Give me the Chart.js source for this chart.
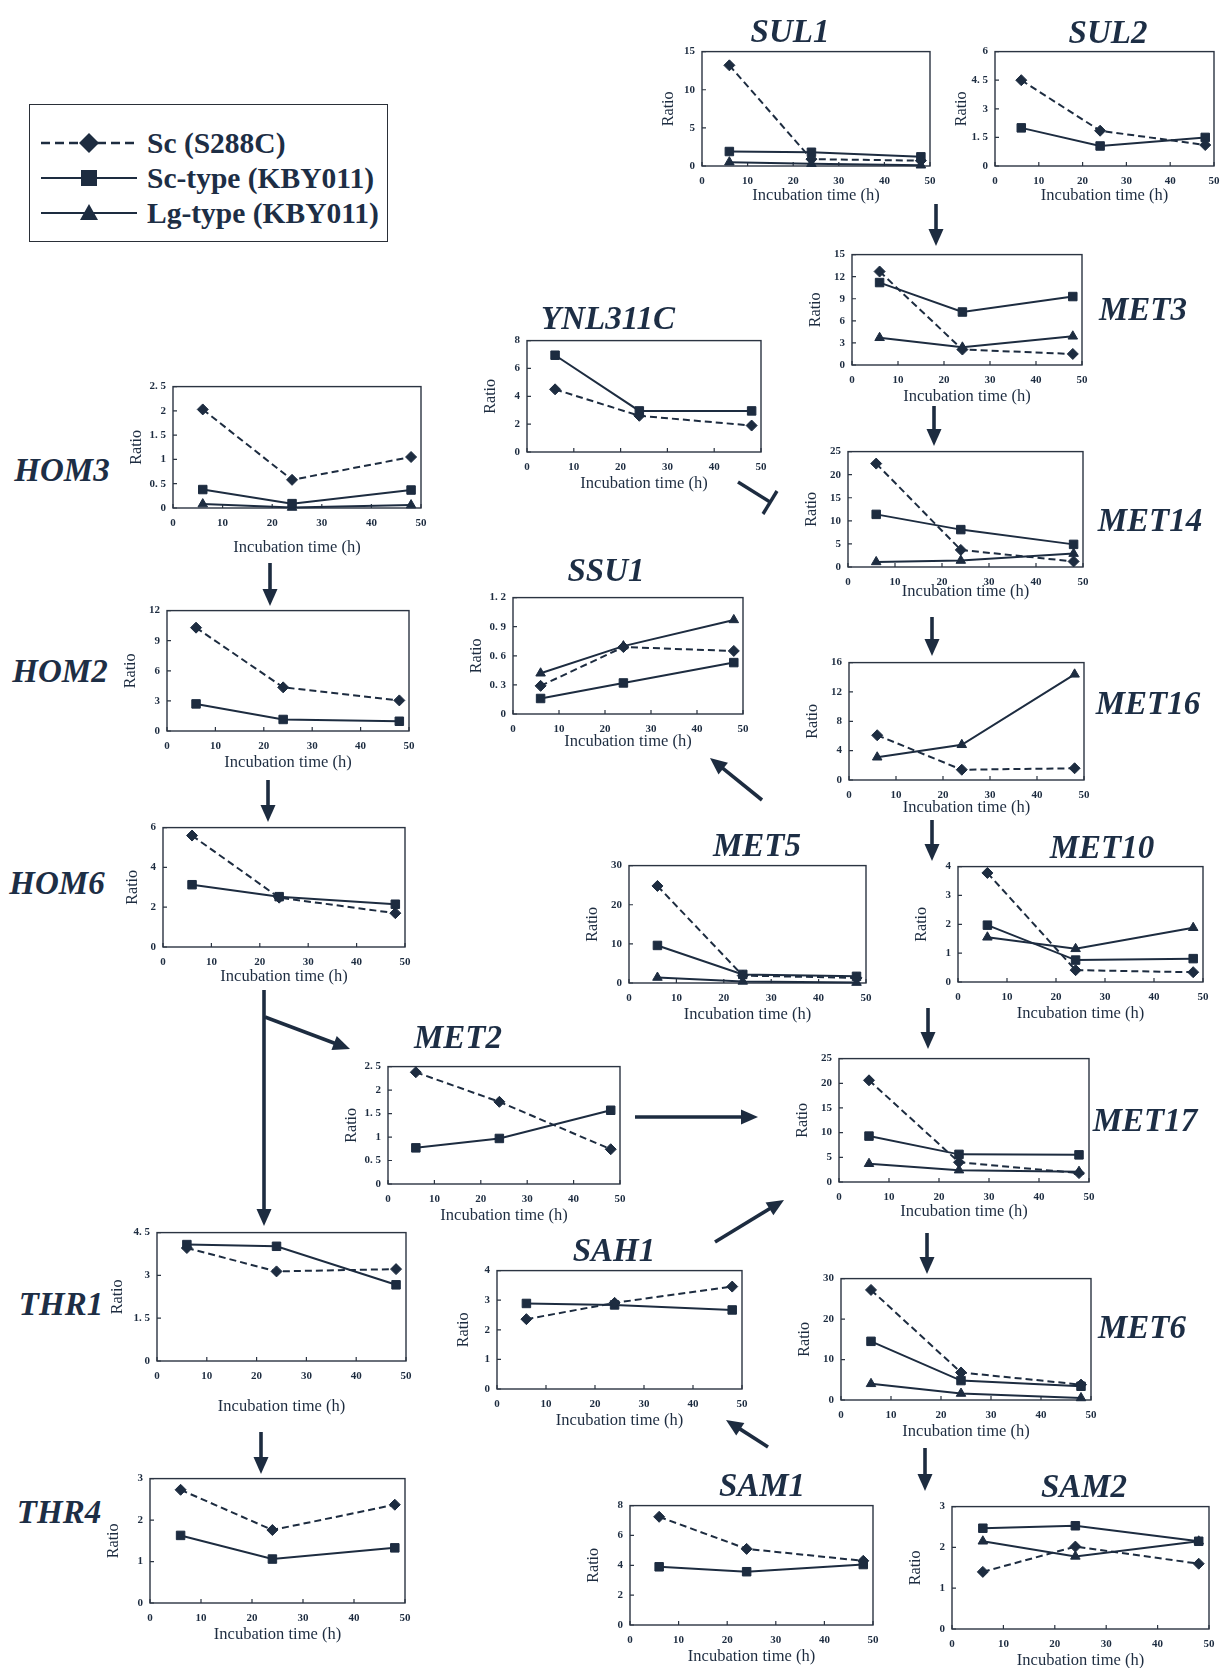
<!DOCTYPE html>
<html>
<head>
<meta charset="utf-8">
<script src="https://cdn.jsdelivr.net/npm/chart.js@4.4.1/dist/chart.umd.min.js"></script>
<style>
  body { margin: 0; background: #fff; }
  #fig { position: relative; width: 1228px; height: 1668px; overflow: hidden; background: #fff; }
  #fig canvas { position: absolute; }
  .gene { position: absolute; font: italic bold 33px "Liberation Serif", serif; color: #1d2e45;
          transform: translate(-50%, -50%); white-space: nowrap; }
  #legend { position: absolute; left: 29px; top: 104px; width: 357px; height: 136px;
            border: 1.5px solid #2a2f38; }
  .legtext { position: absolute; left: 147px; font: bold 29.5px "Liberation Serif", serif; color: #1d2e45;
             transform: translateY(-50%); white-space: nowrap; }
  #arrows { position: absolute; left: 0; top: 0; }
</style>
</head>
<body>
<div id="fig">
  <div id="legend"></div>
  <div class="legtext" style="top:143px">Sc (S288C)</div>
  <div class="legtext" style="top:178px">Sc-type (KBY011)</div>
  <div class="legtext" style="top:213px">Lg-type (KBY011)</div>
  <svg id="arrows" width="1228" height="1668"></svg>
</div>
<script>
// sampling times and x tick labels
const times = [6, 24, 48];
const timeTicks = [0, 10, 20, 30, 40, 50];

// ratios: Sc (S288C), Sc-type (KBY011), Lg-type (KBY011)
const sul1Sc = [13.2, 0.9, 0.7];
const sul1ScType = [1.9, 1.8, 1.2];
const sul1Lg = [0.5, 0.3, 0.1];
const sul1Ticks = [0, 5, 10, 15];

const sul2Sc = [4.5, 1.85, 1.1];
const sul2ScType = [2.0, 1.05, 1.5];
const sul2Ticks = [0, 1.5, 3, 4.5, 6];

const met3Sc = [12.7, 2.1, 1.5];
const met3ScType = [11.2, 7.2, 9.3];
const met3Lg = [3.7, 2.4, 3.9];
const met3Ticks = [0, 3, 6, 9, 12, 15];

const met14Sc = [22.4, 3.7, 1.2];
const met14ScType = [11.4, 8.1, 4.9];
const met14Lg = [1.1, 1.4, 2.9];
const met14Ticks = [0, 5, 10, 15, 20, 25];

const ynlSc = [4.5, 2.6, 1.9];
const ynlScType = [6.95, 2.95, 2.95];
const ynlTicks = [0, 2, 4, 6, 8];

const hom3Sc = [2.03, 0.58, 1.05];
const hom3ScType = [0.38, 0.09, 0.37];
const hom3Lg = [0.08, 0.01, 0.06];
const hom3Ticks = [0, 0.5, 1, 1.5, 2, 2.5];

const hom2Sc = [10.3, 4.35, 3.05];
const hom2ScType = [2.7, 1.15, 0.97];
const hom2Ticks = [0, 3, 6, 9, 12];

const ssu1Sc = [0.29, 0.69, 0.65];
const ssu1ScType = [0.16, 0.32, 0.53];
const ssu1Lg = [0.42, 0.70, 0.97];
const ssu1Ticks = [0, 0.3, 0.6, 0.9, 1.2];

const met16Sc = [6.1, 1.4, 1.6];
const met16Lg = [3.1, 4.8, 14.4];
const met16Ticks = [0, 4, 8, 12, 16];

const met5Sc = [24.8, 1.9, 1.3];
const met5ScType = [9.6, 2.2, 1.7];
const met5Lg = [1.4, 0.4, 0.1];
const met5Ticks = [0, 10, 20, 30];

const met10Sc = [3.78, 0.41, 0.34];
const met10ScType = [1.97, 0.76, 0.81];
const met10Lg = [1.55, 1.15, 1.88];
const met10Ticks = [0, 1, 2, 3, 4];

const hom6Sc = [5.6, 2.48, 1.7];
const hom6ScType = [3.13, 2.53, 2.15];
const hom6Ticks = [0, 2, 4, 6];

const met2Sc = [2.38, 1.75, 0.74];
const met2ScType = [0.77, 0.97, 1.57];
const met2Ticks = [0, 0.5, 1, 1.5, 2, 2.5];

const met17Sc = [20.6, 4.0, 1.8];
const met17ScType = [9.3, 5.6, 5.5];
const met17Lg = [3.7, 2.4, 2.1];
const met17Ticks = [0, 5, 10, 15, 20, 25];

const thr1Sc = [3.96, 3.14, 3.22];
const thr1ScType = [4.08, 4.02, 2.67];
const thr1Ticks = [0, 1.5, 3, 4.5];

const sah1Sc = [2.36, 2.91, 3.46];
const sah1ScType = [2.89, 2.84, 2.67];
const sah1Ticks = [0, 1, 2, 3, 4];

const met6Sc = [27.2, 6.8, 3.8];
const met6ScType = [14.5, 4.8, 3.4];
const met6Lg = [4.0, 1.6, 0.5];
const met6Ticks = [0, 10, 20, 30];

const thr4Sc = [2.73, 1.76, 2.37];
const thr4ScType = [1.63, 1.06, 1.33];
const thr4Ticks = [0, 1, 2, 3];

const sam1Sc = [7.25, 5.1, 4.3];
const sam1ScType = [3.9, 3.57, 4.05];
const sam1Ticks = [0, 2, 4, 6, 8];

const sam2Sc = [1.4, 2.02, 1.6];
const sam2ScType = [2.47, 2.53, 2.15];
const sam2Lg = [2.15, 1.78, 2.15];
const sam2Ticks = [0, 1, 2, 3];

// where each plot box sits on the page: [left, top, right, bottom], and the gene name centre
const panels = [
  { name: 'SUL1', box: [702, 48, 930, 166], title: [790, 31], ticks: sul1Ticks, series: [sul1Sc, sul1ScType, sul1Lg], xt: 30, yt: 33 },
  { name: 'SUL2', box: [995, 48, 1214, 166], title: [1108, 32], ticks: sul2Ticks, series: [sul2Sc, sul2ScType, null], xt: 30, yt: 33 },
  { name: 'MET3', box: [852, 251, 1082, 365], title: [1143, 309], ticks: met3Ticks, series: [met3Sc, met3ScType, met3Lg] },
  { name: 'MET14', box: [848, 448, 1083, 567], title: [1150, 520], ticks: met14Ticks, series: [met14Sc, met14ScType, met14Lg], xt: 25 },
  { name: 'YNL311C', box: [527, 337, 761, 452], title: [608, 318], ticks: ynlTicks, series: [ynlSc, ynlScType, null] },
  { name: 'HOM3', box: [173, 383, 421, 508], title: [62, 470], ticks: hom3Ticks, series: [hom3Sc, hom3ScType, hom3Lg], xt: 40 },
  { name: 'HOM2', box: [167, 607, 409, 731], title: [60, 671], ticks: hom2Ticks, series: [hom2Sc, hom2ScType, null] },
  { name: 'SSU1', box: [513, 594, 743, 714], title: [606, 570], ticks: ssu1Ticks, series: [ssu1Sc, ssu1ScType, ssu1Lg], xt: 28 },
  { name: 'MET16', box: [849, 659, 1084, 780], title: [1148, 703], ticks: met16Ticks, series: [met16Sc, null, met16Lg], xt: 28 },
  { name: 'MET5', box: [629, 862, 866, 983], title: [757, 845], ticks: met5Ticks, series: [met5Sc, met5ScType, met5Lg] },
  { name: 'MET10', box: [958, 863, 1203, 982], title: [1102, 847], ticks: met10Ticks, series: [met10Sc, met10ScType, met10Lg] },
  { name: 'HOM6', box: [163, 824, 405, 947], title: [57, 883], ticks: hom6Ticks, series: [hom6Sc, hom6ScType, null], xt: 30, yt: 30 },
  { name: 'MET2', box: [388, 1063, 620, 1184], title: [458, 1037], ticks: met2Ticks, series: [met2Sc, met2ScType, null] },
  { name: 'MET17', box: [839, 1055, 1089, 1182], title: [1145, 1120], ticks: met17Ticks, series: [met17Sc, met17ScType, met17Lg], xt: 30 },
  { name: 'THR1', box: [157, 1229, 406, 1361], title: [61, 1304], ticks: thr1Ticks, series: [thr1Sc, thr1ScType, null], xt: 46, yt: 39 },
  { name: 'SAH1', box: [497, 1267, 742, 1389], title: [614, 1250], ticks: sah1Ticks, series: [sah1Sc, sah1ScType, null], yt: 33 },
  { name: 'MET6', box: [841, 1275, 1091, 1400], title: [1142, 1327], ticks: met6Ticks, series: [met6Sc, met6ScType, met6Lg] },
  { name: 'THR4', box: [150, 1475, 405, 1603], title: [59, 1512], ticks: thr4Ticks, series: [thr4Sc, thr4ScType, null] },
  { name: 'SAM1', box: [630, 1502, 873, 1625], title: [762, 1485], ticks: sam1Ticks, series: [sam1Sc, sam1ScType, null] },
  { name: 'SAM2', box: [952, 1503, 1209, 1629], title: [1084, 1486], ticks: sam2Ticks, series: [sam2Sc, sam2ScType, sam2Lg] }
];

const ink = '#1d2c40';
const serif = '"Liberation Serif", "Times New Roman", serif';

const seriesStyle = [
  { borderDash: [7, 4], pointStyle: 'rectRot', pointRadius: 5.5 },
  { borderDash: [], pointStyle: 'rect', pointRadius: 6 },
  { borderDash: [], pointStyle: 'triangle', pointRadius: 5.5 }
];

// plot frame + small inner tick marks, like the spreadsheet charts
const framePlugin = {
  id: 'frame',
  beforeDatasetsDraw(chart) {
    const { ctx, chartArea: a, scales } = chart;
    ctx.save();
    ctx.strokeStyle = '#2b3442';
    ctx.lineWidth = 1.4;
    ctx.strokeRect(a.left, a.top, a.right - a.left, a.bottom - a.top);
    ctx.lineWidth = 1.2;
    ctx.beginPath();
    scales.x.ticks.forEach(t => {
      const px = scales.x.getPixelForValue(t.value);
      ctx.moveTo(px, a.bottom); ctx.lineTo(px, a.bottom - 4);
    });
    scales.y.ticks.forEach(t => {
      const py = scales.y.getPixelForValue(t.value);
      ctx.moveTo(a.left, py); ctx.lineTo(a.left + 4, py);
    });
    ctx.stroke();
    ctx.restore();
  }
};

const fig = document.getElementById('fig');
const fmt = v => String(v).replace('.', '. ');

panels.forEach(p => {
  const [l, t, r, b] = p.box;
  const xt = p.xt || 32;   // distance box bottom -> x title centre
  const yt = p.yt || 36;   // distance box left -> y title centre
  const padL = yt + 12, padT = 10, padR = 16, padB = xt + 12;
  const cv = document.createElement('canvas');
  cv.width = r - l + padL + padR;
  cv.height = b - t + padT + padB;
  cv.style.left = (l - padL) + 'px';
  cv.style.top = (t - padT) + 'px';
  fig.appendChild(cv);

  const datasets = [];
  p.series.forEach((vals, i) => {
    if (!vals) return;
    datasets.push({
      data: vals.map((v, k) => ({ x: times[k], y: v })),
      borderColor: ink, backgroundColor: ink,
      pointBackgroundColor: ink, pointBorderColor: ink, pointBorderWidth: 1,
      borderWidth: 2, tension: 0, clip: false,
      ...seriesStyle[i]
    });
  });

  const yTicks = p.ticks;
  new Chart(cv, {
    type: 'line',
    data: { datasets },
    options: {
      responsive: false,
      animation: false,
      devicePixelRatio: 1,
      layout: { padding: { left: 0, top: padT, right: padR, bottom: 0 } },
      plugins: { legend: { display: false }, tooltip: { enabled: false } },
      scales: {
        x: {
          type: 'linear', min: 0, max: 50,
          afterBuildTicks: s => { s.ticks = timeTicks.map(v => ({ value: v })); },
          afterFit: s => { s.height = padB; },
          grid: { display: false, drawTicks: false },
          border: { display: false },
          ticks: { padding: 9, color: ink, font: { family: serif, size: 11, weight: 'bold' }, maxRotation: 0, autoSkip: false },
          title: { display: true, text: 'Incubation time (h)', color: ink,
                   font: { family: serif, size: 16.5 }, padding: { top: 0, bottom: padB - xt - 10 } }
        },
        y: {
          type: 'linear', min: 0, max: yTicks[yTicks.length - 1],
          afterBuildTicks: s => { s.ticks = yTicks.map(v => ({ value: v })); },
          afterFit: s => { s.width = padL; },
          grid: { display: false, drawTicks: false },
          border: { display: false },
          ticks: { padding: 7, color: ink, font: { family: serif, size: 11, weight: 'bold' }, callback: v => fmt(v), autoSkip: false },
          title: { display: true, text: 'Ratio', color: ink,
                   font: { family: serif, size: 16 }, padding: { top: padL - yt - 10, bottom: 0 } }
        }
      }
    },
    plugins: [framePlugin]
  });

  const g = document.createElement('div');
  g.className = 'gene';
  g.textContent = p.name;
  g.style.left = p.title[0] + 'px';
  g.style.top = p.title[1] + 'px';
  fig.appendChild(g);
});

// pathway arrows and legend samples
const svg = document.getElementById('arrows');
const NS = 'http://www.w3.org/2000/svg';
function el(tag, attrs) {
  const e = document.createElementNS(NS, tag);
  for (const k in attrs) e.setAttribute(k, attrs[k]);
  svg.appendChild(e);
  return e;
}
function arrow(x1, y1, x2, y2) {
  const dx = x2 - x1, dy = y2 - y1, len = Math.hypot(dx, dy);
  const ux = dx / len, uy = dy / len;
  const hl = 17, hw = 7.5;
  const bx = x2 - ux * hl, by = y2 - uy * hl;
  el('line', { x1, y1, x2: bx + ux * 2, y2: by + uy * 2, stroke: ink, 'stroke-width': 3.6 });
  el('polygon', { points: `${x2},${y2} ${bx - uy * hw},${by + ux * hw} ${bx + uy * hw},${by - ux * hw}`, fill: ink });
}
arrow(936, 204, 936, 246);
arrow(934, 406, 934, 446);
arrow(932, 617, 932, 656);
arrow(932, 820, 932, 861);
arrow(928, 1008, 928, 1049);
arrow(927, 1233, 927, 1274);
arrow(925, 1448, 925, 1491);
arrow(270, 563, 270, 606);
arrow(268, 780, 268, 822);
arrow(264, 990, 264, 1226);
arrow(265, 1017, 350, 1049);
arrow(635, 1117, 758, 1117);
arrow(261, 1432, 261, 1474);
arrow(715, 1242, 784, 1200);
arrow(768, 1447, 726, 1420);
arrow(762, 800, 710, 758);
// inhibition YNL311C -| MET14
el('line', { x1: 738, y1: 482, x2: 770, y2: 502, stroke: ink, 'stroke-width': 3.4 });
el('line', { x1: 777, y1: 491, x2: 763, y2: 514, stroke: ink, 'stroke-width': 3.4 });

// legend line samples
el('line', { x1: 41, y1: 143, x2: 137, y2: 143, stroke: ink, 'stroke-width': 2.4, 'stroke-dasharray': '9 5' });
el('polygon', { points: '89,133 99,143 89,153 79,143', fill: ink });
el('line', { x1: 41, y1: 178, x2: 137, y2: 178, stroke: ink, 'stroke-width': 2.2 });
el('rect', { x: 81, y: 170, width: 16, height: 16, fill: ink });
el('line', { x1: 41, y1: 213, x2: 137, y2: 213, stroke: ink, 'stroke-width': 2.2 });
el('polygon', { points: '89,204 98,220 80,220', fill: ink });
</script>
</body>
</html>
